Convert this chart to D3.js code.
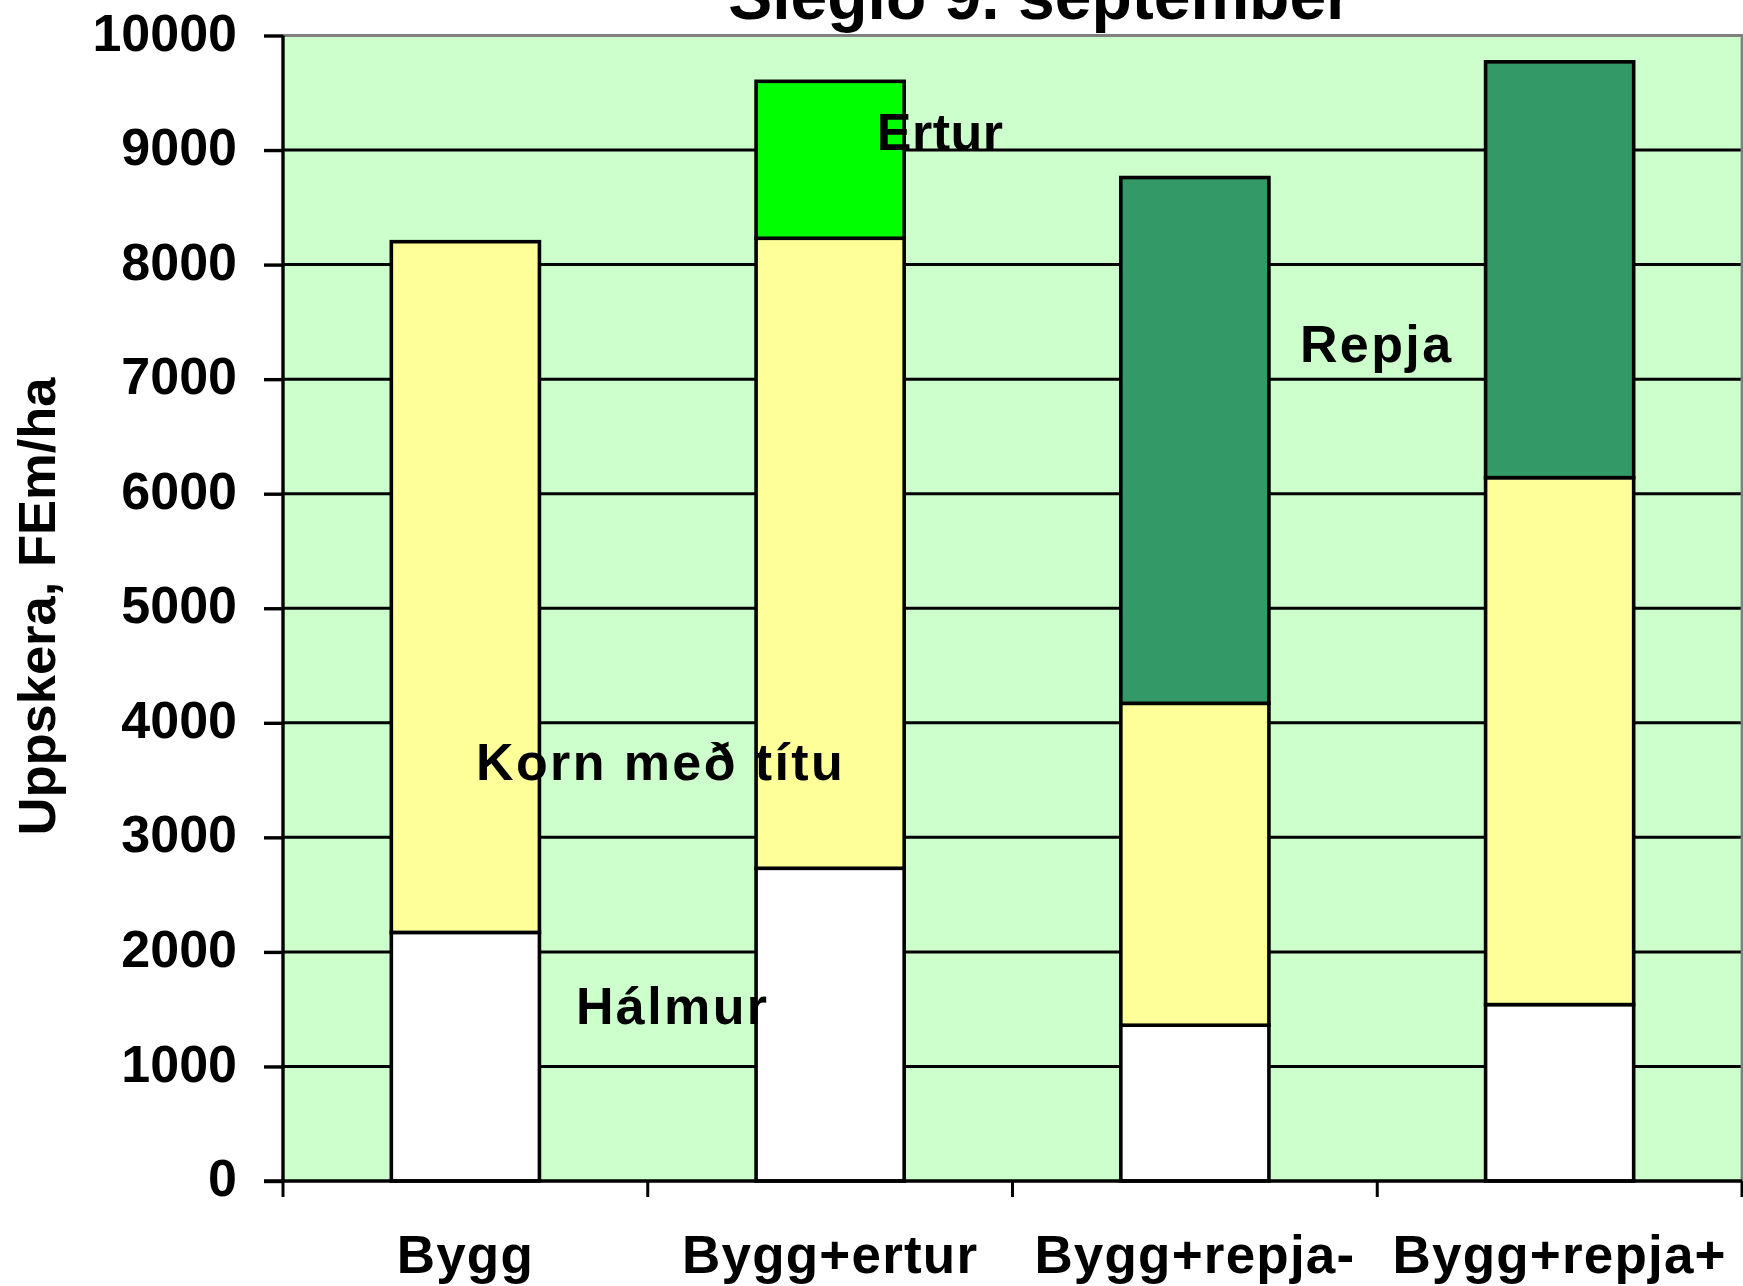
<!DOCTYPE html>
<html>
<head>
<meta charset="utf-8">
<script src="https://cdn.jsdelivr.net/npm/d3@7"></script>
<style>
  html, body { margin: 0; padding: 0; background: #ffffff; }
  svg { display: block; }
  text { font-family: "Liberation Sans", Arial, sans-serif; font-weight: bold; fill: #000; }
</style>
</head>
<body>
<svg id="chart" width="1743" height="1286"></svg>
<script>
// ---- data ----
const categories = ["Bygg", "Bygg+ertur", "Bygg+repja-", "Bygg+repja+"];
const halmur = [2170, 2730, 1360, 1540];
const korn   = [6030, 5500, 2810, 4600];
const ertur  = [0, 1370, 0, 0];
const repja  = [0, 0, 4590, 3630];
const seriesKeys = ["Hálmur", "Korn með títu", "Ertur", "Repja"];
const yTicks = [0, 1000, 2000, 3000, 4000, 5000, 6000, 7000, 8000, 9000, 10000];
const titleText = "Slegið 9. september";
const yAxisTitle = "Uppskera, FEm/ha";
// in-chart series labels: text, value level of baseline, position along category axis (in category units)
const labelTexts = ["Hálmur", "Korn með títu", "Ertur", "Repja"];
const labelValues = [1370, 3500, 9000, 7150];
const labelCatPos = [0.803, 0.529, 1.628, 2.788];

(function () {
// ---- layout ----
const plotL = 283, plotR = 1742, plotT = 35.5, plotB = 1181;
const colors = { "Hálmur": "#FFFFFF", "Korn með títu": "#FFFF99", "Ertur": "#00FF00", "Repja": "#339966" };

const svg = d3.select("#chart");

const rows = categories.map((c, i) => ({
  cat: c, "Hálmur": halmur[i], "Korn með títu": korn[i], "Ertur": ertur[i], "Repja": repja[i]
}));
const stacked = d3.stack().keys(seriesKeys)(rows);

const x = d3.scaleBand().domain(categories).range([plotL, plotR])
  .paddingInner(0.594).paddingOuter(0.297);
const xCat = d3.scaleLinear().domain([0, categories.length]).range([plotL, plotR]);
const y = d3.scaleLinear().domain([0, 10000]).range([plotB, plotT]);

// plot background
svg.append("rect")
  .attr("x", plotL).attr("y", plotT)
  .attr("width", plotR - plotL).attr("height", plotB - plotT)
  .attr("fill", "#CCFFCC");

// gridlines
svg.append("g").selectAll("line")
  .data(yTicks.filter(t => t > 0 && t < 10000))
  .join("line")
  .attr("x1", plotL).attr("x2", plotR)
  .attr("y1", d => y(d)).attr("y2", d => y(d))
  .attr("stroke", "#000").attr("stroke-width", 3);

// plot border top/right (gray)
svg.append("path")
  .attr("d", `M${plotL},${y(10000)}H${plotR}V${plotB}`)
  .attr("fill", "none").attr("stroke", "#808080").attr("stroke-width", 2.8);

// bars
svg.append("g").selectAll("g")
  .data(stacked)
  .join("g")
  .attr("fill", d => colors[d.key])
  .selectAll("rect")
  .data(d => d.filter(s => s[1] - s[0] > 0))
  .join("rect")
  .attr("x", d => x(d.data.cat))
  .attr("width", x.bandwidth())
  .attr("y", d => y(d[1]))
  .attr("height", d => y(d[0]) - y(d[1]))
  .attr("stroke", "#000").attr("stroke-width", 3.6);

// y axis
const yAxis = d3.axisLeft(y).tickValues(yTicks).tickSize(19).tickPadding(27).tickFormat(d3.format("d"));
const gy = svg.append("g").attr("transform", `translate(${plotL},0)`).call(yAxis);
gy.select(".domain").attr("stroke", "#000").attr("stroke-width", 3.4)
  .attr("d", `M0,${y(10000)}V${plotB}`);
gy.selectAll(".tick line").attr("stroke", "#000").attr("stroke-width", 3.4);
gy.selectAll(".tick text")
  .attr("font-size", 52).attr("font-family", "'Liberation Sans', Arial, sans-serif")
  .attr("font-weight", "bold").attr("fill", "#000")
  .attr("dy", "0.28em");

// x axis (ticks at category boundaries)
const boundaries = d3.range(categories.length + 1);
const gx = svg.append("g");
gx.append("line")
  .attr("x1", plotL - 19).attr("x2", plotR)
  .attr("y1", plotB).attr("y2", plotB)
  .attr("stroke", "#000").attr("stroke-width", 3.4);
gx.selectAll("line.tk").data(boundaries).join("line").attr("class", "tk")
  .attr("x1", d => xCat(d)).attr("x2", d => xCat(d))
  .attr("y1", plotB).attr("y2", plotB + 16)
  .attr("stroke", "#000").attr("stroke-width", 3);
gx.selectAll("text").data(categories).join("text")
  .attr("x", d => x(d) + x.bandwidth() / 2)
  .attr("y", 1273)
  .attr("text-anchor", "middle")
  .attr("font-size", 53)
  .attr("letter-spacing", 1.2)
  .text(d => d);

// in-chart series labels
svg.append("g").selectAll("text")
  .data(labelTexts.map((t, i) => ({ t, v: labelValues[i], p: labelCatPos[i] })))
  .join("text")
  .attr("x", d => xCat(d.p))
  .attr("y", d => y(d.v))
  .attr("font-size", 52)
  .attr("letter-spacing", d => d.t === "Ertur" ? 0.5 : 2.4)
  .text(d => d.t);

// y axis title
svg.append("text")
  .attr("transform", `translate(55,${(378 + 835) / 2}) rotate(-90)`)
  .attr("text-anchor", "middle")
  .attr("font-size", 52.5)
  .text(yAxisTitle);

// chart title (partly clipped at the top, as in the source)
svg.append("text")
  .attr("x", 1040)
  .attr("y", 19)
  .attr("text-anchor", "middle")
  .attr("font-size", 66)
  .text(titleText);
})();
</script>
</body>
</html>
